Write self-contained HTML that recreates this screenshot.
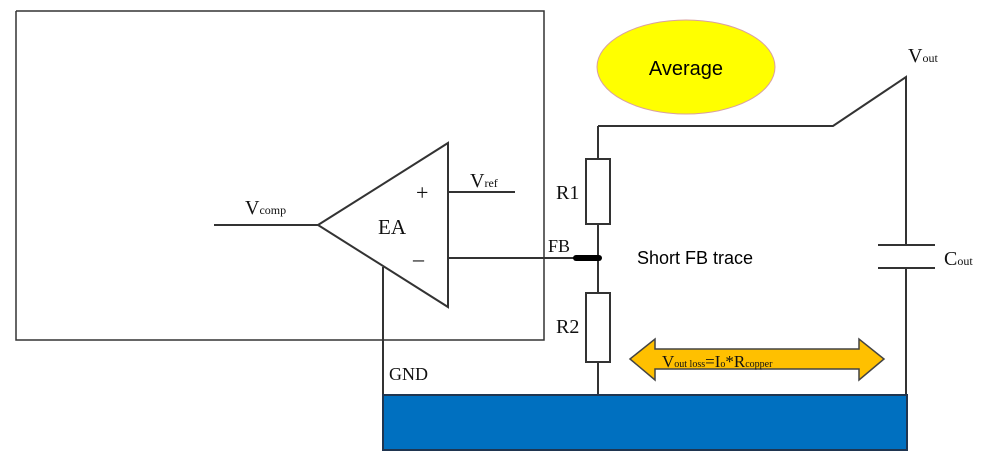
<!DOCTYPE html>
<html><head><style>
body{margin:0;background:#fff;width:996px;height:461px;overflow:hidden}
svg{display:block}
.s{font-family:"Liberation Serif",serif;fill:#111}
.a{font-family:"Liberation Sans",sans-serif;fill:#000}
</style></head><body>
<svg width="996" height="461" viewBox="0 0 996 461">
<g stroke="#333" stroke-width="2" fill="none">
<polyline points="16,11 544,11 544,340 16,340 16,11" stroke-width="1.5"/>
<polygon points="318,225 448,143 448,307" fill="#fff"/>
<line x1="214" y1="225" x2="318" y2="225"/>
<line x1="448" y1="192" x2="515" y2="192"/>
<line x1="448" y1="258" x2="598" y2="258"/>
<line x1="383" y1="267" x2="383" y2="396"/>
<line x1="598" y1="126" x2="598" y2="396"/>
<polyline points="598,126 833,126 906,77 906,245"/>
<line x1="906" y1="268" x2="906" y2="396"/>
<line x1="878" y1="245" x2="935" y2="245"/>
<line x1="878" y1="268" x2="935" y2="268"/>
<rect x="586" y="159" width="24" height="65" fill="#fff"/>
<rect x="586" y="293" width="24" height="69" fill="#fff"/>
</g>
<line x1="576" y1="258" x2="599" y2="258" stroke="#000" stroke-width="6" stroke-linecap="round"/>
<ellipse cx="686" cy="67" rx="89" ry="47" fill="#ffff00" stroke="#d9a0a0" stroke-width="1"/>
<text x="686" y="75" class="a" font-size="20" text-anchor="middle">Average</text>
<rect x="383" y="395" width="524" height="55" fill="#0070c0" stroke="#1f3550" stroke-width="2"/>
<polygon points="630,359 655,339 655,349 859,349 859,339 884,359 859,380 859,369 655,369 655,380" fill="#ffc000" stroke="#444" stroke-width="1.5"/>
<text x="662" y="367" class="s" font-size="17">V<tspan font-size="10">out loss</tspan>=I<tspan font-size="10">o</tspan>*R<tspan font-size="10">copper</tspan></text>
<text x="245" y="214" class="s" font-size="20">V<tspan font-size="12">comp</tspan></text>
<text x="378" y="234" class="s" font-size="21">EA</text>
<text x="416" y="200" class="s" font-size="22" fill="#555">+</text>
<text x="413" y="266" class="s" font-size="22">–</text>
<text x="470" y="187" class="s" font-size="20">V<tspan font-size="12">ref</tspan></text>
<text x="548" y="252" class="s" font-size="18">FB</text>
<text x="556" y="199" class="s" font-size="20">R1</text>
<text x="556" y="333" class="s" font-size="20">R2</text>
<text x="389" y="380" class="s" font-size="18">GND</text>
<text x="908" y="62" class="s" font-size="20">V<tspan font-size="12">out</tspan></text>
<text x="944" y="265" class="s" font-size="20">C<tspan font-size="12">out</tspan></text>
<text x="637" y="264" class="a" font-size="18">Short FB trace</text>
</svg>
</body></html>
